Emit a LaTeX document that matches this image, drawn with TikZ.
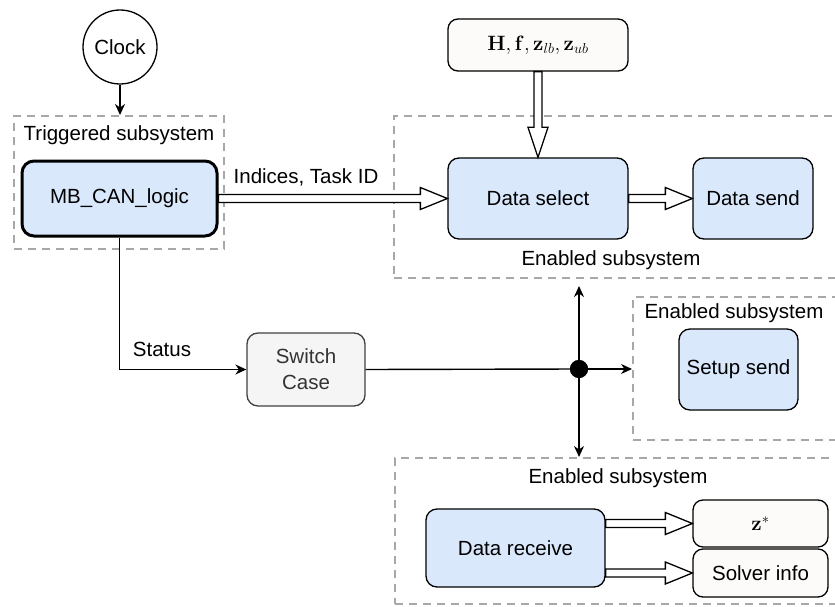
\documentclass[tikz,border=0pt]{standalone}
\usepackage[no-math]{fontspec}
\setmainfont{Liberation Sans}
\usetikzlibrary{arrows.meta,calc}
\definecolor{boxblue}{HTML}{DAE8FC}
\definecolor{dashgray}{HTML}{A8A8A8}
\definecolor{lightgraybox}{HTML}{F5F5F5}
\definecolor{creambox}{HTML}{FCFBF9}
\definecolor{textgray}{HTML}{333333}
\tikzset{
  every node/.style={font=\fontsize{20.5}{26}\selectfont},
  blockbox/.style={draw=black, line width=1.3pt, rounded corners=11pt, fill=boxblue, align=center, inner sep=0pt},
  whitebox/.style={draw=black, line width=1.3pt, rounded corners=10pt, fill=creambox, align=center, inner sep=0pt},
  subsys/.style={draw=dashgray, line width=2pt, dash pattern=on 8pt off 6pt},
  conn/.style={draw=black, line width=1.4pt, -{Stealth[length=11pt,width=10pt]}},
  flexarrow/.style={draw=black, line width=1.3pt, fill=white, line join=miter},
  lbl/.style={inner sep=0pt, anchor=center}
}
\newcommand\hflex[2]{\draw[flexarrow] let \p1=(#1), \p2=(#2) in
  (\x1,\y2+4pt) -- (\x2-27pt,\y2+4pt) -- (\x2-27pt,\y2+11pt) -- (\x2,\y2) -- (\x2-27pt,\y2-11pt) -- (\x2-27pt,\y2-4pt) -- (\x1,\y2-4pt) -- cycle;}
\newcommand\vflex[2]{\draw[flexarrow] let \p1=(#1), \p2=(#2) in
  (\x2-4pt,\y1) -- (\x2-4pt,\y2+30pt) -- (\x2-10pt,\y2+30pt) -- (\x2,\y2) -- (\x2+10pt,\y2+30pt) -- (\x2+4pt,\y2+30pt) -- (\x2+4pt,\y1) -- cycle;}
\begin{document}
\begin{tikzpicture}[x=1pt,y=-1pt]
\useasboundingbox (0,0) rectangle (835,607);
\clip (0,0) rectangle (835,607);

% subsystem frames
\node[subsys, minimum width=210pt, minimum height=133pt, inner sep=0pt] (trig) at (119,182.5) {};
\node[subsys, minimum width=446pt, minimum height=162pt, inner sep=0pt] (topsys) at (617,197) {};
\node[subsys, minimum width=207pt, minimum height=143pt, inner sep=0pt] (setupsys) at (736.5,368.5) {};
\node[subsys, minimum width=445pt, minimum height=146pt, inner sep=0pt] (botsys) at (617.5,531) {};

\node[lbl] (trigl) at (119,135) {Triggered subsystem};
\node[lbl] (topl) at (611,260) {Enabled subsystem};
\node[lbl] (setupl) at (734,313) {Enabled subsystem};
\node[lbl] (botl) at (618,478) {Enabled subsystem};

% nodes
\node[draw=black, line width=1.3pt, circle, minimum size=74pt, inner sep=0pt, fill=white] (clock) at (120,47) {Clock};
\node[blockbox, line width=3pt, rounded corners=12pt, minimum width=195pt, minimum height=75pt] (mb) at (119.5,198.5) {MB\_CAN\_logic};
\node[whitebox, minimum width=180pt, minimum height=52pt] (hf) at (538,45) {$\mathbf{H},\mathbf{f},\mathbf{z}_{lb},\mathbf{z}_{ub}$};
\node[blockbox, minimum width=180pt, minimum height=81pt] (sel) at (538,198.5) {Data select};
\node[blockbox, minimum width=120pt, minimum height=81pt] (send) at (753,198.5) {Data send};
\node[draw=black!75, line width=1.3pt, rounded corners=11pt, fill=lightgraybox, text=textgray, align=center, inner sep=0pt, minimum width=118pt, minimum height=73pt] (sw) at (306,369.5) {Switch\\Case};
\node[circle, fill=black, minimum size=18pt, inner sep=0pt] (dot) at (579,369) {};
\node[blockbox, minimum width=119pt, minimum height=81pt] (setup) at (738.5,369.5) {Setup send};
\node[blockbox, minimum width=179pt, minimum height=78pt] (recv) at (515.5,548) {Data receive};
\node[whitebox, minimum width=135pt, minimum height=47pt] (zs) at (760.5,523.5) {$\mathbf{z}^{*}$};
\node[whitebox, minimum width=135pt, minimum height=48pt] (solver) at (760.5,573) {Solver info};

% connectors
\draw[conn] (clock.south) -- (clock.south |- trig.north);
\draw[conn] (mb.south) |- (sw.west);
\node[lbl] (statusl) at (162,349) {Status};
\draw[line width=1.4pt] (sw.east) -- (dot.center);
\draw[conn] (dot.center) -- (dot -| setupsys.west);
\coordinate (upend) at ($(dot |- topsys.south)+(0,7)$);
\draw[conn] (dot.center) -- (upend);
\draw[conn] (dot.center) -- (dot |- botsys.north);
\node[fill=black, circle, minimum size=18pt, inner sep=0pt] at (dot) {};

% hollow arrows
\hflex{mb.east}{sel.west}
\node[lbl] (idxl) at (306,177) {Indices, Task ID};
\vflex{hf.south}{sel.north}
\hflex{sel.east}{send.west}
\hflex{recv.east}{zs.west}
\hflex{recv.east}{solver.west}
\end{tikzpicture}
\end{document}
